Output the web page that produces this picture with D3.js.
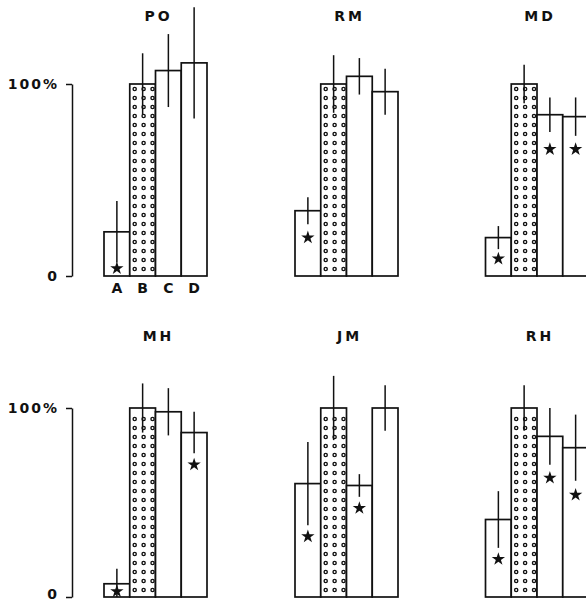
<!DOCTYPE html>
<html>
<head>
<meta charset="utf-8">
<script src="https://cdn.jsdelivr.net/npm/d3@7"></script>
<style>
  html, body { margin: 0; padding: 0; background: #fff; }
  svg { display: block; }
</style>
</head>
<body>
<svg id="chart" width="586" height="604"></svg>
<script>
// Subjects, one panel each (row-major order)
const subjects = ["PO", "RM", "MD", "MH", "JM", "RH"];
// Conditions within each panel
const conditions = ["A", "B", "C", "D"];
// Mean response, % of condition B
const meanValues = [
  [23, 100, 107, 111],
  [34, 100, 104, 96],
  [20, 100, 84, 83],
  [7, 100, 98, 87],
  [60, 100, 59, 100],
  [41, 100, 85, 79]
];
// Half-length of each error bar, in %
const errorValues = [
  [16, 16, 19, 29],
  [7, 15, 9.5, 12],
  [6, 10, 9, 10],
  [8, 13, 12.5, 11],
  [22, 17, 6, 12],
  [15, 12, 15, 17.5]
];
// Level (in %) of the significance star, null where none
const starLevels = [
  [4, null, null, null],
  [20, null, null, null],
  [9, null, 66, 66],
  [3, null, null, 70],
  [32, null, 47, null],
  [20, null, 63, 54]
];
// Axis tick values and labels
const tickValues = [0, 100];
const tickLabels = ["0", "100%"];

const svg = d3.select("#chart");
const ink = "#111";

// Layout: three panels per row, two rows
const panelLeft = [104, 295, 485.5];
const panelWidth = 103;
const rowRange = [[276, 84], [597, 408]];
const titleY = [16, 336];

const axisFont = "'DejaVu Sans', 'Liberation Sans', sans-serif";

subjects.forEach((name, i) => {
  const row = Math.floor(i / 3), col = i % 3;
  const x = d3.scaleBand().domain(conditions)
    .range([panelLeft[col], panelLeft[col] + panelWidth]).padding(0);
  const y = d3.scaleLinear().domain([0, 100]).range(rowRange[row]);
  const g = svg.append("g");

  const rows = conditions.map((c, k) => ({
    c, k, mean: meanValues[i][k], err: errorValues[i][k], star: starLevels[i][k]
  }));

  // Bars
  g.selectAll("rect.bar").data(rows).join("rect")
    .attr("class", "bar")
    .attr("x", d => x(d.c))
    .attr("y", d => y(d.mean))
    .attr("width", x.bandwidth())
    .attr("height", d => y(0) - y(d.mean))
    .attr("fill", "#fff")
    .attr("stroke", ink)
    .attr("stroke-width", 1.7);

  // Open-circle fill of the reference condition B
  const b = rows[1];
  const bx = x(b.c), top = y(b.mean), base = y(0);
  const rings = [];
  for (let yy = base - 7; yy >= top + 5; yy -= 9) {
    [5, 14, 23].forEach(dx => rings.push([bx + dx * x.bandwidth() / 26, yy]));
  }
  g.selectAll("circle.ring").data(rings).join("circle")
    .attr("class", "ring")
    .attr("cx", d => d[0]).attr("cy", d => d[1])
    .attr("r", 1.6)
    .attr("fill", "#fff")
    .attr("stroke", ink)
    .attr("stroke-width", 1.4);

  // Error bars (plain vertical lines, clipped at the baseline)
  g.selectAll("line.err").data(rows).join("line")
    .attr("class", "err")
    .attr("x1", d => x(d.c) + x.bandwidth() / 2)
    .attr("x2", d => x(d.c) + x.bandwidth() / 2)
    .attr("y1", d => y(d.mean + d.err))
    .attr("y2", d => Math.min(y(0), y(d.mean - d.err)))
    .attr("stroke", ink)
    .attr("stroke-width", 1.5);

  // Significance stars
  g.selectAll("path.star").data(rows.filter(d => d.star !== null)).join("path")
    .attr("class", "star")
    .attr("d", d3.symbol().type(d3.symbolStar).size(55))
    .attr("transform", d => `translate(${x(d.c) + x.bandwidth() / 2},${y(d.star)})`)
    .attr("fill", ink);

  // Panel title
  g.append("text")
    .attr("x", panelLeft[col] + panelWidth / 2 + 3)
    .attr("y", titleY[row])
    .attr("text-anchor", "middle")
    .attr("dominant-baseline", "central")
    .attr("font-family", axisFont)
    .attr("font-weight", "bold")
    .attr("font-size", 14)
    .attr("letter-spacing", 3)
    .attr("fill", ink)
    .text(name);

  // Condition labels under the first panel only
  if (i === 0) {
    g.selectAll("text.cond").data(conditions).join("text")
      .attr("class", "cond")
      .attr("x", c => x(c) + x.bandwidth() / 2)
      .attr("y", 288)
      .attr("text-anchor", "middle")
      .attr("dominant-baseline", "central")
      .attr("font-family", axisFont)
      .attr("font-weight", "bold")
      .attr("font-size", 14)
      .attr("fill", ink)
      .text(c => c);
  }

  // Y axis for the left column
  if (col === 0) {
    const axis = d3.axisLeft(y)
      .tickValues(tickValues)
      .tickFormat((v, k) => tickLabels[k])
      .tickSize(6)
      .tickSizeOuter(0)
      .tickPadding(7);
    const ag = svg.append("g")
      .attr("transform", "translate(72,0)")
      .call(axis);
    ag.select(".domain").attr("stroke", ink).attr("stroke-width", 1.5);
    ag.selectAll(".tick line").attr("stroke", ink).attr("stroke-width", 1.5);
    ag.selectAll(".tick text")
      .attr("font-family", axisFont)
      .attr("font-weight", "bold")
      .attr("font-size", 14)
      .attr("letter-spacing", 2)
      .attr("fill", ink);
    // keep the lower row's zero label inside the page
    if (row === 1) {
      ag.selectAll(".tick text").filter(v => v === 0).attr("dy", "0.1em");
    }
  }
});
</script>
</body>
</html>
